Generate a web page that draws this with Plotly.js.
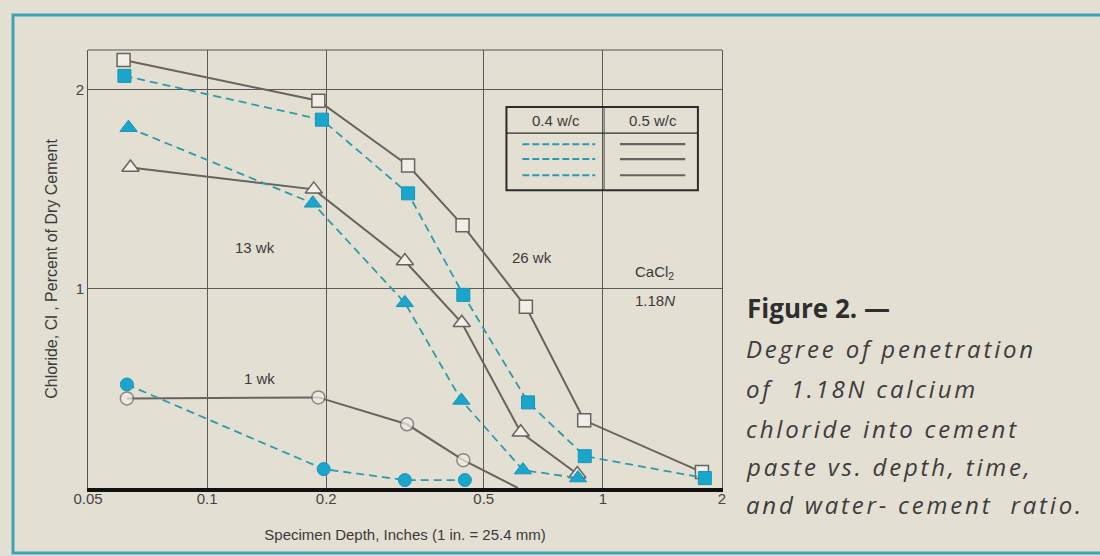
<!DOCTYPE html>
<html>
<head>
<meta charset="utf-8">
<script src="https://cdn.plot.ly/plotly-3.0.1.min.js"></script>
<style>
  html, body { margin: 0; padding: 0; background: #e4dfd3; }
  #chart { width: 1100px; height: 556px; }
</style>
</head>
<body>
<div id="chart"></div>
<script>
// Chloride content (% of dry cement) against specimen depth (inches)
// 26 weeks
const depth26_05 = [0.0615, 0.191, 0.322, 0.442, 0.639, 0.897, 1.78];
const cl26_05    = [2.15, 1.945, 1.62, 1.32, 0.91, 0.34, 0.08];
const depth26_04 = [0.0618, 0.195, 0.322, 0.444, 0.647, 0.900, 1.81];
const cl26_04    = [2.07, 1.85, 1.48, 0.97, 0.43, 0.16, 0.05];
// 13 weeks
const depth13_05 = [0.064, 0.186, 0.316, 0.440, 0.620, 0.862];
const cl13_05    = [1.61, 1.50, 1.14, 0.83, 0.28, 0.07];
const depth13_04 = [0.0633, 0.185, 0.316, 0.439, 0.628, 0.865];
const cl13_04    = [1.81, 1.43, 0.93, 0.44, 0.09, 0.05];
// 1 week
const depth1_05  = [0.0627, 0.191, 0.320, 0.444, 0.61];
const cl1_05     = [0.45, 0.455, 0.32, 0.14, 0.0];
const depth1_04  = [0.0627, 0.197, 0.316, 0.448];
const cl1_04     = [0.52, 0.095, 0.04, 0.04];

const xTickVals = [0.05, 0.1, 0.2, 0.5, 1, 2];
const xTickText = ['0.05', '0.1', '0.2', '0.5', '1', '2'];
const yTickVals = [1, 2];
const yTickText = ['1', '2'];

const curveLabels = ['26 wk', '13 wk', '1 wk'];
const ratioLabels = ['0.4 w/c', '0.5 w/c'];
const captionHead = 'Figure 2. —';
const captionLines = [
  'Degree of penetration',
  'of  1.18N calcium',
  'chloride into cement',
  'paste vs. depth, time,',
  'and water- cement  ratio.'
];

const GRAY = '#65645f';
const TEAL_LINE = '#2f9aab';
const TEAL_FILL = '#1aa5cc';
const OPEN_FILL = '#f1eee8';
const FONT = 'Liberation Sans, Arial, sans-serif';
const CAPTION_FONT = 'Open Sans, sans-serif';

function solidSeries(x, y, symbol, sizes) {
  return {
    x: x, y: y, type: 'scatter', mode: 'lines+markers',
    line: { color: GRAY, width: 2 },
    marker: { symbol: symbol, size: sizes || 13, color: OPEN_FILL,
              line: { color: GRAY, width: 1.5 } },
    cliponaxis: false, hoverinfo: 'x+y'
  };
}
function dashedSeries(x, y, symbol, size) {
  return {
    x: x, y: y, type: 'scatter', mode: 'lines+markers',
    line: { color: TEAL_LINE, width: 1.8, dash: '8px,5px' },
    marker: { symbol: symbol, size: size || 13, color: TEAL_FILL,
              line: { color: '#1b93b5', width: 1 } },
    cliponaxis: false, hoverinfo: 'x+y'
  };
}

const data = [
  solidSeries(depth26_05, cl26_05, 'square'),
  solidSeries(depth13_05, cl13_05, 'triangle-up', 15),
  solidSeries(depth1_05, cl1_05, 'circle', cl1_05.map(v => v > 0 ? 13 : 0)),
  dashedSeries(depth26_04, cl26_04, 'square'),
  dashedSeries(depth13_04, cl13_04, 'triangle-up', 15),
  dashedSeries(depth1_04, cl1_04, 'circle')
];

// key box (paper coordinates of the plot area)
const kx0 = 0.660, kx1 = 0.962, kmid = 0.814;
const ky0 = 0.680, ky1 = 0.870, khead = 0.810;
const keyRows = [0.785, 0.751, 0.714];

const shapes = [
  // outer frame
  { type: 'rect', xref: 'paper', yref: 'paper', x0: -0.1183, x1: 1.62, y0: -0.1484, y1: 1.080,
    line: { color: '#3ba3b3', width: 3 }, layer: 'below' },
  // top border of plot
  { type: 'line', xref: 'paper', yref: 'paper', x0: 0, x1: 1, y0: 1, y1: 1,
    line: { color: '#555', width: 1 } },
  // key box
  { type: 'rect', xref: 'paper', yref: 'paper', x0: kx0, x1: kx1, y0: ky0, y1: ky1,
    line: { color: '#2b2b2b', width: 2 } },
  { type: 'line', xref: 'paper', yref: 'paper', x0: kx0, x1: kx1, y0: khead, y1: khead,
    line: { color: '#2b2b2b', width: 1.2 } },
  { type: 'line', xref: 'paper', yref: 'paper', x0: kmid, x1: kmid, y0: ky0, y1: ky1,
    line: { color: '#444', width: 1 } }
];
keyRows.forEach(function (ry) {
  shapes.push({ type: 'line', xref: 'paper', yref: 'paper', x0: 0.685, x1: 0.800, y0: ry, y1: ry,
    line: { color: TEAL_LINE, width: 2, dash: '7px,3px' } });
  shapes.push({ type: 'line', xref: 'paper', yref: 'paper', x0: 0.839, x1: 0.942, y0: ry, y1: ry,
    line: { color: GRAY, width: 2.2 } });
});

const txt = { family: FONT, size: 15, color: '#3a3a3a' };
function label(x, y, text) {
  return { xref: 'paper', yref: 'paper', x: x, y: y, text: text, showarrow: false,
           xanchor: 'center', yanchor: 'middle', font: txt };
}
const annotations = [
  label(0.7385, 0.840, ratioLabels[0]),
  label(0.8915, 0.840, ratioLabels[1]),
  label(0.701, 0.527, curveLabels[0]),
  label(0.263, 0.548, curveLabels[1]),
  label(0.271, 0.251, curveLabels[2]),
  label(0.894, 0.491, 'CaCl<sub>2</sub>'),
  label(0.894, 0.427, '1.18<i>N</i>')
];
const captionStart = annotations.length;
annotations.push({ xref: 'paper', yref: 'paper', x: 1.037, y: 0.411, xanchor: 'left', yanchor: 'middle',
  align: 'left', showarrow: false, text: '<b>' + captionHead + '</b>',
  font: { family: CAPTION_FONT, size: 26, color: '#2e2e2e' } });
const captionY = [0.318, 0.2267, 0.1354, 0.0486, -0.0381];
captionLines.forEach(function (line, i) {
  annotations.push({ xref: 'paper', yref: 'paper', x: 1.035, y: captionY[i], xanchor: 'left', yanchor: 'middle',
    align: 'left', showarrow: false, text: '<i>' + line + '</i>',
    font: { family: CAPTION_FONT, size: 24, color: '#3c3c3c' } });
});

const layout = {
  width: 1100, height: 556,
  margin: { l: 88, r: 378, t: 50, b: 68 },
  paper_bgcolor: '#e4dfd3',
  plot_bgcolor: 'rgba(0,0,0,0)',
  showlegend: false,
  font: { family: FONT, color: '#3a3a3a' },
  xaxis: {
    type: 'log', range: [Math.log10(0.05), Math.log10(2)],
    tickvals: xTickVals, ticktext: xTickText,
    showgrid: true, gridcolor: '#5a5a5a', gridwidth: 1,
    showline: true, linecolor: '#111', linewidth: 4, mirror: false,
    ticks: '', zeroline: false, ticklabelstandoff: -6,
    tickfont: { family: FONT, size: 15, color: '#444' },
    title: { text: 'Specimen Depth, Inches (1 in. = 25.4 mm)', standoff: 24,
             font: { family: FONT, size: 15, color: '#3a3a3a' } },
    fixedrange: true
  },
  yaxis: {
    range: [0, 2.2],
    tickvals: yTickVals, ticktext: yTickText,
    showgrid: true, gridcolor: '#5a5a5a', gridwidth: 1,
    showline: true, linecolor: '#555', linewidth: 1, mirror: true,
    ticks: '', zeroline: false,
    tickfont: { family: FONT, size: 15, color: '#444' },
    title: { text: 'Chloride, Cl , Percent of Dry Cement', standoff: 14,
             font: { family: FONT, size: 16, color: '#3a3a3a' } },
    fixedrange: true
  },
  shapes: shapes,
  annotations: annotations
};

Plotly.newPlot('chart', data, layout, { displayModeBar: false, staticPlot: true }).then(function (gd) {
  // the caption body is set with loose tracking
  gd.querySelectorAll('g.annotation').forEach(function (g) {
    const idx = +g.getAttribute('data-index');
    if (idx > captionStart) {
      g.querySelectorAll('text').forEach(function (t) { t.style.letterSpacing = '2.8px'; });
    }
  });
});
</script>
</body>
</html>
